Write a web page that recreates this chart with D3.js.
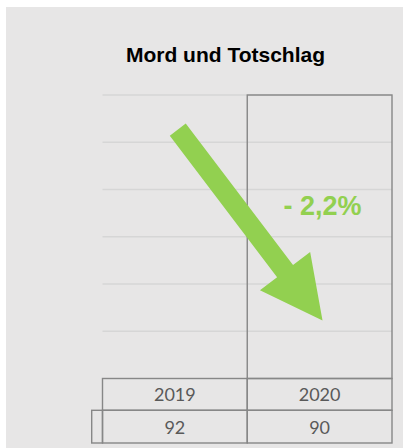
<!DOCTYPE html>
<html>
<head>
<meta charset="utf-8">
<script src="https://cdn.jsdelivr.net/npm/d3@7"></script>
<style>
    body { margin: 0; background: #fff; }
    svg { display: block; }
</style>
</head>
<body>
<script>
//data
var years = ["2019", "2020"];
var counts = [92, 90];
var yTicks = [15, 30, 45, 60, 75, 90];
var title = "Mord und Totschlag";

var width = 403;
var height = 448;

var margin = ({top: 95, right: 11, bottom: 69.5, left: 102.5});

var svg = d3.select("body").append("svg")
    .attr("width", width)
    .attr("height", height);

//chart background
svg.append("rect")
    .attr("x", 6)
    .attr("y", 7)
    .attr("width", width - 6)
    .attr("height", height - 7)
    .attr("fill", "#e7e6e6");

svg.append("text")
    .attr("x", 225.5)
    .attr("y", 62)
    .attr("text-anchor", "middle")
    .attr("font-family", "Liberation Sans, Arial, sans-serif")
    .attr("font-weight", "bold")
    .attr("font-size", 21)
    .attr("fill", "#000")
    .text(title);

var x = d3.scaleBand()
    .domain(years)
    .range([margin.left, width - margin.right])
    .padding(0);

var y = d3.scaleLinear()
    .domain([0, 90])
    .range([height - margin.bottom, margin.top])
    .clamp(true);

//gridlines
svg.append("g")
    .selectAll("line").data(yTicks).enter().append("line")
        .attr("x1", margin.left)
        .attr("x2", width - margin.right)
        .attr("y1", d => y(d))
        .attr("y2", d => y(d))
        .attr("stroke", "#d6d6d6")
        .attr("stroke-width", 1.5);

//bars, only the current year gets an outline
var data = years.map((d, i) => ({year: d, value: counts[i]}));

svg.append("g")
    .selectAll("rect").data(data).enter().append("rect")
        .attr("x", d => x(d.year))
        .attr("y", d => y(d.value))
        .attr("width", x.bandwidth())
        .attr("height", d => y(0) - y(d.value))
        .attr("fill", "none")
        .attr("stroke", (d, i) => i == years.length - 1 ? "#878787" : "none")
        .attr("stroke-width", 1.4);

//arrow from 2019 to 2020
{
    var bw = x.bandwidth();
    var x0 = x(years[0]) + bw * 0.52, y0 = y(79);
    var x1 = x(years[1]) + bw * 0.52, y1 = y(18.4);
    var dx = x1 - x0, dy = y1 - y0;
    var len = Math.sqrt(dx * dx + dy * dy);
    var ux = dx / len, uy = dy / len;
    var px = -uy, py = ux;
    var shaft = 10, head = 31.5, headLen = 62;
    var bx = x1 - ux * headLen, by = y1 - uy * headLen;
    var pts = [
        [x0 + px * shaft, y0 + py * shaft],
        [bx + px * shaft, by + py * shaft],
        [bx + px * head, by + py * head],
        [x1, y1],
        [bx - px * head, by - py * head],
        [bx - px * shaft, by - py * shaft],
        [x0 - px * shaft, y0 - py * shaft]
    ];
    svg.append("path")
        .attr("d", d3.line()(pts) + "Z")
        .attr("fill", "#92d050");
}

//percentage change
var change = (counts[1] - counts[0]) * 100 / counts[0];
svg.append("text")
    .attr("x", x(years[1]) + x.bandwidth() * 0.52)
    .attr("y", y(52))
    .attr("text-anchor", "middle")
    .attr("font-family", "Liberation Sans, Arial, sans-serif")
    .attr("font-weight", "bold")
    .attr("font-size", 27)
    .attr("fill", "#92d050")
    .text((change < 0 ? "- " : "+ ") + Math.abs(change).toFixed(1).replace(".", ",") + "%");

//data table
{
    var row1 = y(0), row2 = 410.3, row3 = 443;
    var tbl = svg.append("g")
        .attr("fill", "none")
        .attr("stroke", "#878787")
        .attr("stroke-width", 1.4);

    tbl.selectAll(".yr").data(years).enter().append("rect")
        .attr("x", d => x(d))
        .attr("y", row1)
        .attr("width", x.bandwidth())
        .attr("height", row2 - row1);

    tbl.selectAll(".val").data(years).enter().append("rect")
        .attr("x", d => x(d))
        .attr("y", row2)
        .attr("width", x.bandwidth())
        .attr("height", row3 - row2);

    //legend key cell
    tbl.append("rect")
        .attr("x", 91.7)
        .attr("y", row2)
        .attr("width", margin.left - 91.7)
        .attr("height", row3 - row2);

    var labels = svg.append("g")
        .attr("font-family", "Lato, sans-serif")
        .attr("font-size", 18)
        .attr("fill", "#595959")
        .attr("text-anchor", "middle");

    labels.selectAll(".yt").data(years).enter().append("text")
        .attr("x", d => x(d) + x.bandwidth() / 2)
        .attr("y", 401)
        .text(d => d);

    labels.selectAll(".vt").data(data).enter().append("text")
        .attr("x", d => x(d.year) + x.bandwidth() / 2)
        .attr("y", 434.3)
        .text(d => d.value);
}
</script>
</body>
</html>
